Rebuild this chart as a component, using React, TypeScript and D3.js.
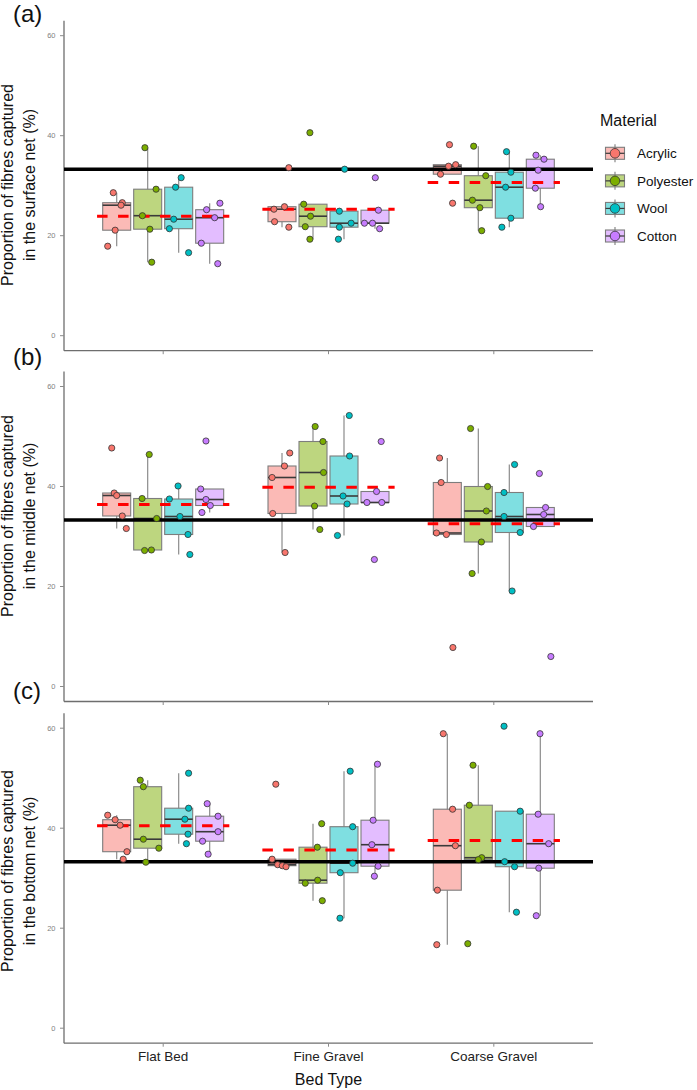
import React from "react";
import * as d3 from "d3";

// Bed types (x categories) and fibre materials (dodged groups)
const bedTypes = ["Flat Bed", "Fine Gravel", "Coarse Gravel"];
const materials = ["Acrylic", "Polyester", "Wool", "Cotton"];
const materialColors = ["#F8766D", "#7CAE00", "#00BFC4", "#C77CFF"];
const yTicks = [0, 20, 40, 60];
const equalShare = 33.3; // one third of fibres in each net

// Proportion (%) of fibres captured, [bed][material] -> 5 replicates
const surfaceValues = [
  [[28.6, 26.6, 26.1, 21.1, 17.9], [37.6, 29.3, 24.0, 21.3, 14.7], [31.6, 29.7, 23.3, 21.4, 16.6], [26.5, 25.2, 23.6, 18.5, 14.4]],
  [[33.6, 25.8, 25.3, 22.8, 21.7], [40.6, 26.3, 23.9, 21.8, 19.3], [33.3, 24.9, 22.5, 21.7, 19.3], [31.6, 25.1, 22.5, 22.5, 21.4]],
  [[38.2, 34.2, 33.9, 32.3, 26.5], [37.9, 32.0, 27.1, 25.6, 21.0], [36.8, 32.7, 29.7, 23.5, 21.7], [36.1, 35.3, 33.1, 29.5, 25.8]],
];
const middleValues = [
  [[47.7, 38.7, 38.2, 34.1, 31.6], [46.4, 37.6, 33.6, 27.3, 27.2], [40.1, 37.5, 34.0, 30.4, 26.4], [49.1, 39.5, 37.4, 36.2, 34.8]],
  [[46.7, 44.1, 41.8, 34.6, 26.8], [52.0, 49.0, 42.8, 36.1, 31.4], [54.2, 46.1, 38.1, 36.5, 30.2], [49.0, 39.0, 36.8, 36.8, 25.4]],
  [[45.7, 40.8, 30.7, 30.4, 7.8], [51.6, 40.0, 35.1, 28.9, 22.6], [44.4, 38.8, 34.0, 30.8, 19.1], [42.6, 35.8, 34.4, 32.0, 6.0]],
];
const bottomValues = [
  [[42.6, 41.7, 40.6, 35.3, 33.8], [49.6, 48.3, 37.8, 36.0, 33.2], [51.0, 44.0, 41.8, 38.8, 36.9], [44.9, 42.4, 39.3, 37.4, 34.8]],
  [[48.8, 33.8, 32.7, 32.5, 32.3], [40.9, 36.2, 29.6, 29.0, 25.5], [51.4, 40.3, 33.0, 31.1, 22.0], [52.8, 41.6, 36.7, 32.4, 30.4]],
  [[58.9, 43.8, 36.5, 27.6, 16.7], [52.6, 44.6, 34.1, 33.7, 16.9], [60.4, 43.4, 33.3, 32.3, 23.2], [58.9, 42.8, 36.9, 32.0, 22.5]],
];

// Horizontal jitter of each replicate, as a fraction of the dodge slot
const surfaceJitter = [
  [[-0.11, 0.18, 0.14, -0.05, -0.29], [-0.09, 0.27, -0.17, 0.07, 0.13], [0.08, -0.1, -0.16, -0.3, 0.32], [0.33, -0.1, 0.16, -0.27, 0.26]],
  [[0.22, 0.08, -0.26, -0.24, 0.22], [-0.1, -0.3, -0.08, -0.25, -0.1], [0.02, -0.15, 0.23, -0.15, -0.18], [0.01, 0.11, -0.34, -0.08, 0.15]],
  [[0.07, 0.27, 0.04, -0.22, 0.17], [-0.15, 0.24, -0.19, 0.05, 0.11], [-0.09, 0.05, -0.12, 0.05, -0.24], [-0.14, 0.12, -0.07, -0.16, 0.01]],
];
const middleJitter = [
  [[-0.16, -0.08, 0, 0.18, 0.31], [0.05, -0.18, 0.29, 0.12, -0.1], [-0.02, -0.3, 0.04, 0.3, 0.36], [-0.12, -0.29, -0.12, 0.02, -0.25]],
  [[0.25, 0.08, -0.32, -0.3, 0.1], [0.07, 0.32, 0.34, 0.05, 0.22], [0.17, 0.18, -0.03, 0.1, -0.21], [0.2, 0.05, -0.26, 0.22, -0.02]],
  [[-0.25, -0.2, -0.35, -0.03, 0.18], [-0.25, 0.3, 0.26, 0.1, -0.2], [0.17, -0.17, -0.17, 0.35, 0.09], [-0.03, 0.17, 0.11, -0.22, 0.34]],
];
const bottomJitter = [
  [[-0.29, -0.05, 0.11, 0.33, 0.21], [-0.24, -0.14, -0.14, 0.36, -0.06], [0.32, 0.32, 0.2, 0.3, 0.25], [-0.08, 0.27, 0.27, -0.23, -0.05]],
  [[-0.2, -0.32, -0.14, 0.01, 0.13], [0.28, 0.14, 0.15, -0.25, 0.3], [0.2, 0.28, 0.28, -0.12, -0.13], [0.08, -0.06, -0.1, 0.1, -0.02]],
  [[-0.13, 0.17, 0.26, -0.32, -0.34], [-0.17, -0.29, 0.11, 0, -0.34], [-0.17, 0.35, -0.15, 0.17, 0.23], [-0.01, -0.07, 0.27, -0.05, -0.13]],
];

const panels = [
  { tag: "(a)", title: ["Proportion of fibres captured", "in the surface net (%)"], values: surfaceValues, jitter: surfaceJitter, top: 20.7, tagY: 22, titleY: 185 },
  { tag: "(b)", title: ["Proportion of fibres captured", "in the middle net (%)"], values: middleValues, jitter: middleJitter, top: 371.5, tagY: 365, titleY: 516 },
  { tag: "(c)", title: ["Proportion of fibres captured", "in the bottom net (%)"], values: bottomValues, jitter: bottomJitter, top: 713.2, tagY: 699, titleY: 871 },
];

const W = 697;
const H = 1090;
const PANEL_H = 330;
const X0 = 64;
const X1 = 593;
const FONT = "'Liberation Sans', Arial, sans-serif";

const x = d3.scalePoint<string>().domain(bedTypes).range([X0, X1]).padding(0.6);
const step = x.step();
const dodge = d3.scaleBand<string>().domain(materials).range([-0.375 * step, 0.375 * step]);
const slot = dodge.bandwidth();
const boxW = 28;

function boxStats(v: number[]) {
  const s = [...v].sort(d3.ascending);
  const q1 = d3.quantile(s, 0.25) as number;
  const med = d3.quantile(s, 0.5) as number;
  const q3 = d3.quantile(s, 0.75) as number;
  const iqr = q3 - q1;
  const lo = d3.min(s.filter((d) => d >= q1 - 1.5 * iqr)) as number;
  const hi = d3.max(s.filter((d) => d <= q3 + 1.5 * iqr)) as number;
  return { q1, med, q3, lo, hi };
}

function Panel({ p, last }: { p: (typeof panels)[number]; last: boolean }) {
  const y = d3.scaleLinear().domain([-3, 63]).range([p.top + PANEL_H, p.top]);
  const yBase = p.top + PANEL_H;
  return (
    <g>
      <text x={13} y={p.tagY} fontSize={24} fontFamily={FONT} fill="#111">{p.tag}</text>
      {p.title.map((t, i) => (
        <text key={i} transform={`translate(${12.5 + i * 22},${p.titleY}) rotate(-90)`} textAnchor="middle"
          fontSize={16} fontFamily={FONT} fill="#111">{t}</text>
      ))}
      {/* y axis */}
      <line x1={X0} x2={X0} y1={p.top} y2={yBase} stroke="#6e6e6e" strokeWidth={1.3} />
      {yTicks.map((t) => (
        <g key={t}>
          <line x1={X0 - 4} x2={X0} y1={y(t)} y2={y(t)} stroke="#8a8a8a" strokeWidth={1} />
          <text x={X0 - 8.5} y={y(t)} dy="0.35em" textAnchor="end" fontSize={7.5} fontFamily={FONT} fill="#7f7f7f">{t}</text>
        </g>
      ))}
      {/* x axis */}
      <line x1={X0} x2={X1} y1={yBase} y2={yBase} stroke="#6e6e6e" strokeWidth={1.3} />
      {bedTypes.map((b) => (
        <g key={b}>
          <line x1={x(b)} x2={x(b)} y1={yBase} y2={yBase + 3.5} stroke="#8a8a8a" strokeWidth={1} />
          {last && (
            <text x={x(b)} y={yBase + 18} textAnchor="middle" fontSize={13.5} fontFamily={FONT} fill="#222">{b}</text>
          )}
        </g>
      ))}
      {/* boxes */}
      {bedTypes.map((b, bi) =>
        materials.map((m, mi) => {
          const cx = (x(b) as number) + (dodge(m) as number) + slot / 2;
          const st = boxStats(p.values[bi][mi]);
          return (
            <g key={b + m}>
              <line x1={cx} x2={cx} y1={y(st.q3)} y2={y(st.hi)} stroke="#8c8c8c" strokeWidth={1.2} />
              <line x1={cx} x2={cx} y1={y(st.q1)} y2={y(st.lo)} stroke="#8c8c8c" strokeWidth={1.2} />
              <rect x={cx - boxW / 2} y={y(st.q3)} width={boxW} height={y(st.q1) - y(st.q3)}
                fill={materialColors[mi]} fillOpacity={0.5} stroke="#7d7d7d" strokeWidth={1.1} />
              <line x1={cx - boxW / 2} x2={cx + boxW / 2} y1={y(st.med)} y2={y(st.med)} stroke="#3a3a3a" strokeWidth={1.6} />
            </g>
          );
        })
      )}
      {/* equal-share reference */}
      <line x1={X0} x2={X1} y1={y(equalShare)} y2={y(equalShare)} stroke="#000" strokeWidth={3.5} />
      {/* bed-type means */}
      {bedTypes.map((b, bi) => {
        const mean = d3.mean(p.values[bi].flat()) as number;
        const cx = x(b) as number;
        return (
          <line key={b} x1={cx - 0.4 * step} x2={cx + 0.4 * step} y1={y(mean)} y2={y(mean)}
            stroke="#FF0000" strokeWidth={3} strokeDasharray="10.5 10.5" />
        );
      })}
      {/* replicates */}
      {bedTypes.map((b, bi) =>
        materials.map((m, mi) => {
          const cx = (x(b) as number) + (dodge(m) as number) + slot / 2;
          return p.values[bi][mi].map((v, k) => (
            <circle key={b + m + k} cx={cx + p.jitter[bi][mi][k] * slot} cy={y(v)} r={3.1}
              fill={materialColors[mi]} stroke="#333" strokeWidth={0.8} />
          ));
        })
      )}
    </g>
  );
}

function Legend() {
  const lx = 600;
  const keyY = d3.scalePoint<string>().domain(materials).range([153.3, 236]);
  return (
    <g>
      <text x={lx} y={126} fontSize={16} fontFamily={FONT} fill="#111">Material</text>
      {materials.map((m, i) => {
        const cy = keyY(m) as number;
        const cx = 615;
        return (
          <g key={m}>
            <line x1={cx} x2={cx} y1={cy - 9} y2={cy + 9} stroke="#7d7d7d" strokeWidth={1.1} />
            <rect x={cx - 9.5} y={cy - 6} width={19} height={12} fill={materialColors[i]} fillOpacity={0.5}
              stroke="#7d7d7d" strokeWidth={1.1} />
            <line x1={cx - 9.5} x2={cx + 9.5} y1={cy} y2={cy} stroke="#3a3a3a" strokeWidth={1.2} />
            <circle cx={cx} cy={cy} r={4.8} fill={materialColors[i]} stroke="#333" strokeWidth={0.8} />
            <text x={637} y={cy} dy="0.35em" fontSize={13.5} fontFamily={FONT} fill="#111">{m}</text>
          </g>
        );
      })}
    </g>
  );
}

export default function App() {
  return (
    <svg width={W} height={H} viewBox={`0 0 ${W} ${H}`}
      style={{ position: "absolute", left: 0, top: 0, background: "#fff", display: "block" }}>
      <rect width={W} height={H} fill="#fff" />
      {panels.map((p, i) => (
        <Panel key={p.tag} p={p} last={i === panels.length - 1} />
      ))}
      <text x={(X0 + X1) / 2} y={1085} textAnchor="middle" fontSize={16} fontFamily={FONT} fill="#111">Bed Type</text>
      <Legend />
    </svg>
  );
}
